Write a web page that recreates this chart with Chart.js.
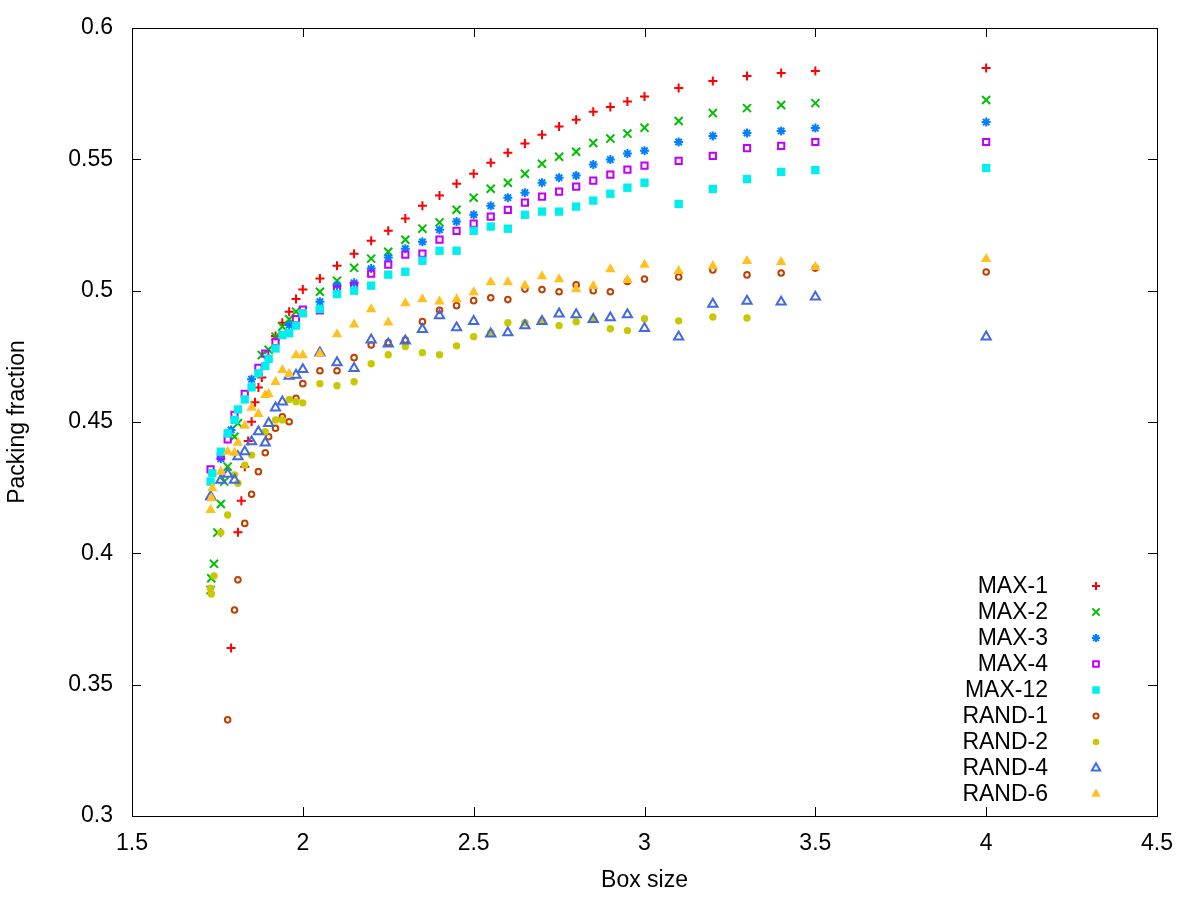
<!DOCTYPE html>
<html>
<head>
<meta charset="utf-8">
<title>Packing fraction vs box size</title>
<script src="https://cdn.jsdelivr.net/npm/chart.js@4/dist/chart.umd.min.js"></script>
<style>
  html, body { margin: 0; padding: 0; background: #fff; }
  canvas { display: block; }
</style>
</head>
<body>
<canvas id="packingChart" width="1200" height="900"></canvas>
<script>
// box sizes shared by every series (null = no point at that size)
const boxSizes = [1.73, 1.732, 1.735, 1.74, 1.75, 1.76, 1.77, 1.78, 1.79, 1.80,
    1.81, 1.82, 1.83, 1.84, 1.85, 1.86, 1.87, 1.88, 1.89, 1.90,
    1.92, 1.94, 1.96, 1.98, 2.00,
    2.05, 2.10, 2.15, 2.20, 2.25, 2.30, 2.35, 2.40, 2.45, 2.50,
    2.55, 2.60, 2.65, 2.70, 2.75, 2.80, 2.85, 2.90, 2.95, 3.00,
    3.1, 3.2, 3.3, 3.4, 3.5, 4.0];

const max1 = [null, null, null, null, null, null, null, null, 0.364, null,
    0.408, 0.420, 0.433, 0.4428, 0.4501, 0.4575, 0.4631, 0.4669, null, null,
    0.4827, 0.4878, 0.492, 0.4968, 0.5004,
    0.5046, 0.5095, 0.5141, 0.519, 0.5228, 0.5275, 0.5323, 0.5362, 0.5407, 0.5445,
    0.5487, 0.5525, 0.556, 0.5594, 0.5625, 0.5651, 0.5681, 0.5699, 0.572, 0.5739,
    0.5772, 0.5798, 0.5817, 0.5829, 0.5836, 0.5848];

const max2 = [0.386, 0.3905, null, 0.396, 0.4079, 0.4188, 0.4273, 0.433, null, 0.4444,
    0.4495, null, null, null, null, null, null, 0.4755, null, 0.4775,
    0.4825, 0.4863, 0.4891, 0.492, null,
    0.4996, 0.5038, 0.5087, 0.5122, 0.5148, 0.5194, 0.5236, 0.526, 0.5308, 0.5354,
    0.5388, 0.5411, 0.5445, 0.5483, 0.551, 0.5529, 0.5562, 0.5579, 0.5598, 0.562,
    0.5646, 0.5676, 0.5695, 0.5707, 0.5714, 0.5726];

const max3 = [null, null, null, null, null, 0.436, null, null, 0.447, null,
    null, null, null, null, 0.4663, null, null, null, null, null,
    null, null, 0.4869, null, null,
    0.4958, 0.502, 0.503, 0.5084, 0.5126, 0.516, 0.5186, 0.5232, 0.5263, 0.5289,
    0.5323, 0.5354, 0.5373, 0.5411, 0.543, 0.5438, 0.548, 0.5499, 0.5522, 0.5533,
    0.5566, 0.5589, 0.56, 0.5608, 0.5619, 0.5642];

const max4 = [0.432, null, null, null, null, 0.437, null, 0.4434, null, 0.4527,
    null, null, 0.4607, null, null, null, 0.4706, null, 0.476, null,
    0.4805, null, null, 0.4892, 0.4928,
    0.4925, 0.5005, 0.5019, 0.5065, 0.5099, 0.5137, 0.5141, 0.5194, 0.5228, 0.5255,
    0.5282, 0.5308, 0.5335, 0.5358, 0.5377, 0.5396, 0.5419, 0.5442, 0.5461, 0.5476,
    0.5494, 0.5513, 0.5543, 0.5551, 0.5566, 0.5566];

const max12 = [0.4273, null, 0.4305, null, null, 0.4387, null, 0.4457, null, 0.4508,
    0.4548, null, 0.4586, null, 0.4632, null, 0.4685, null, 0.4713, 0.474,
    0.478, 0.4831, 0.4838, 0.4867, 0.4914,
    0.493, 0.4987, 0.5, 0.5019, 0.5061, 0.5072, 0.5114, 0.5152, 0.5152, 0.5228,
    0.5244, 0.5236, 0.5289, 0.5301, 0.5301, 0.532, 0.5343, 0.5369, 0.5392, 0.5411,
    0.533, 0.5387, 0.5425, 0.5452, 0.5459, 0.5467];

const rand1 = [null, null, null, null, null, null, null, 0.3366, null, 0.3784,
    0.3899, null, 0.4114, null, 0.4225, null, 0.4311, null, 0.4383, 0.4444,
    0.4476, 0.452, 0.4501, 0.459, 0.4646,
    0.4695, 0.4695, 0.4745, 0.4793, 0.4802, 0.4812, 0.4882, 0.4925, 0.4943, 0.4962,
    0.4973, 0.4966, 0.5006, 0.5004, 0.4996, 0.5022, 0.5, 0.4996, 0.5035, 0.5044,
    0.5052, 0.5079, 0.506, 0.5067, 0.5086, 0.5071];

const rand2 = [0.3867, 0.3845, null, 0.3914, null, 0.4079, null, 0.4146, null, 0.4298,
    0.4267, null, 0.4336, null, 0.4374, null, null, null, 0.4463, null,
    0.4508, 0.4508, 0.4586, 0.4577, 0.4573,
    0.4646, 0.4638, 0.4653, 0.4722, 0.4756, 0.4787, 0.4764, 0.4756, 0.479, 0.4825,
    0.484, 0.4878, 0.4878, 0.4886, 0.4867, 0.4882, 0.4891, 0.4855, 0.4848, 0.4893,
    0.4885, 0.49, 0.4896, null, null, null];

const rand4 = [0.4216, null, null, null, null, 0.4279, null, 0.4302, null, 0.4279,
    0.4368, null, 0.4387, null, 0.4425, null, 0.4463, null, 0.4421, 0.4495,
    0.4554, 0.4577, 0.4675, 0.4679, 0.470,
    0.4763, 0.4726, 0.4704, 0.4813, 0.4798, 0.4809, 0.4853, 0.4905, 0.4859, 0.4883,
    0.4836, 0.484, 0.4867, 0.4883, 0.4912, 0.4909, 0.4891, 0.4897, 0.4909, 0.4857,
    0.4824, 0.4949, 0.496, 0.4957, 0.4976, 0.4824];

const rand6 = [0.4165, 0.421, 0.4248, null, null, 0.4311, null, 0.4387, null, 0.4383,
    0.4421, null, 0.4486, null, 0.4554, null, 0.453, null, 0.4603, 0.4607,
    0.4652, 0.4698, 0.4683, 0.4754, 0.4754,
    0.476, 0.4834, 0.4871, 0.4929, 0.4879, 0.4952, 0.4967, 0.4959, 0.4967, 0.4994,
    0.5032, 0.5032, 0.502, 0.5055, 0.5043, 0.5005, 0.5018, 0.5082, 0.5041, 0.5099,
    0.5075, 0.5094, 0.5113, 0.5109, 0.509, 0.5121];

const seriesNames = ["MAX-1", "MAX-2", "MAX-3", "MAX-4", "MAX-12", "RAND-1", "RAND-2", "RAND-4", "RAND-6"];
const seriesValues = [max1, max2, max3, max4, max12, rand1, rand2, rand4, rand6];

const xTicks = [1.5, 2, 2.5, 3, 3.5, 4, 4.5];
const xTickLabels = ["1.5", "2", "2.5", "3", "3.5", "4", "4.5"];
const yTicks = [0.3, 0.35, 0.4, 0.45, 0.5, 0.55, 0.6];
const yTickLabels = ["0.3", "0.35", "0.4", "0.45", "0.5", "0.55", "0.6"];

// gnuplot-like marker styles, one per series
const styles = [
    { color: "#ff0000", pointStyle: "cross", radius: 4.5, border: 2, filled: false },
    { color: "#00c000", pointStyle: "crossRot", radius: 5.7, border: 2, filled: false },
    { color: "#0080ff", pointStyle: "star", radius: 4.5, border: 2, filled: false },
    { color: "#c000ff", pointStyle: "rect", radius: 4.4, border: 2, filled: false },
    { color: "#00eeee", pointStyle: "rect", radius: 5.9, border: 0, filled: true },
    { color: "#c04000", pointStyle: "circle", radius: 2.8, border: 2, filled: false },
    { color: "#c8c800", pointStyle: "circle", radius: 3.7, border: 0, filled: true },
    { color: "#4169e1", pointStyle: "triangle", radius: 5.3, border: 2, filled: false },
    { color: "#ffc020", pointStyle: "triangle", radius: 6, border: 0, filled: true }
];

const FONT = "'Liberation Sans', Arial, sans-serif";
const FONT_SIZE = 23;

let datasets = seriesNames.map((name, i) => {
    let s = styles[i];
    let points = [];
    boxSizes.forEach((x, j) => {
        if (seriesValues[i][j] !== null) points.push({ x: x, y: seriesValues[i][j] });
    });
    return {
        label: name,
        data: points,
        pointStyle: s.pointStyle,
        pointRadius: s.radius,
        pointBorderWidth: s.border,
        borderColor: s.color,
        backgroundColor: s.filled ? s.color : "rgba(0,0,0,0)",
        showLine: false,
        order: seriesNames.length - i   // later series on top, as gnuplot does
    };
});

// frame and inward tick marks on all four sides
const framePlugin = {
    id: "frame",
    afterDatasetsDraw(chart) {
        let ctx = chart.ctx;
        let a = chart.chartArea;
        let xs = chart.scales.x;
        let ys = chart.scales.y;
        let len = 9;
        ctx.save();
        ctx.strokeStyle = "#000";
        ctx.lineWidth = 1;
        ctx.beginPath();
        xTicks.forEach(v => {
            let px = Math.round(xs.getPixelForValue(v)) + 0.5;
            ctx.moveTo(px, a.bottom);
            ctx.lineTo(px, a.bottom - len);
            ctx.moveTo(px, a.top);
            ctx.lineTo(px, a.top + len);
        });
        yTicks.forEach(v => {
            let py = Math.round(ys.getPixelForValue(v)) + 0.5;
            ctx.moveTo(a.left, py);
            ctx.lineTo(a.left + len, py);
            ctx.moveTo(a.right, py);
            ctx.lineTo(a.right - len, py);
        });
        ctx.stroke();
        ctx.strokeRect(Math.round(a.left) + 0.5, Math.round(a.top) + 0.5,
            Math.round(a.right - a.left), Math.round(a.bottom - a.top));
        ctx.restore();
    }
};

// key in the lower right corner: text right-aligned, marker to the right
const keyPlugin = {
    id: "gnuKey",
    afterDraw(chart) {
        let ctx = chart.ctx;
        let textRight = 1048;
        let markX = 1096;
        let y0 = 586;
        let step = 26;
        ctx.save();
        ctx.font = FONT_SIZE + "px " + FONT;
        ctx.textAlign = "right";
        ctx.textBaseline = "middle";
        seriesNames.forEach((name, i) => {
            let s = styles[i];
            let y = y0 + i * step;
            ctx.fillStyle = "#000";
            ctx.fillText(name, textRight, y + 1);
            ctx.fillStyle = s.filled ? s.color : "rgba(0,0,0,0)";
            ctx.strokeStyle = s.color;
            ctx.lineWidth = s.border;
            Chart.helpers.drawPoint(ctx, {
                pointStyle: s.pointStyle,
                radius: s.radius * 0.9,
                rotation: 0,
                borderWidth: s.border
            }, markX, y);
        });
        ctx.restore();
    }
};

new Chart("packingChart", {
    type: "scatter",
    data: { datasets: datasets },
    options: {
        responsive: false,
        devicePixelRatio: 1,
        animation: false,
        events: [],
        layout: { padding: { left: 0, top: 28, right: 43, bottom: 0 } },
        plugins: {
            legend: { display: false },
            tooltip: { enabled: false }
        },
        scales: {
            x: {
                type: "linear",
                min: 1.5,
                max: 4.5,
                afterBuildTicks: scale => { scale.ticks = xTicks.map(v => ({ value: v })); },
                afterFit: scale => {
                    scale.height = 84;
                    scale.paddingLeft = 0;
                    scale.paddingRight = 0;
                },
                grid: { display: false, drawTicks: false },
                border: { display: false },
                ticks: {
                    color: "#000",
                    padding: 14,
                    maxRotation: 0,
                    font: { family: FONT, size: FONT_SIZE },
                    callback: (v, i) => xTickLabels[i]
                },
                title: {
                    display: true,
                    text: "Box size",
                    color: "#000",
                    font: { family: FONT, size: FONT_SIZE, lineHeight: 1.2 },
                    padding: { top: 0, bottom: 6 }
                }
            },
            y: {
                type: "linear",
                min: 0.3,
                max: 0.6,
                afterBuildTicks: scale => { scale.ticks = yTicks.map(v => ({ value: v })); },
                afterFit: scale => {
                    scale.width = 132;
                    scale.paddingTop = 0;
                    scale.paddingBottom = 0;
                },
                grid: { display: false, drawTicks: false },
                border: { display: false },
                ticks: {
                    color: "#000",
                    padding: 19,
                    font: { family: FONT, size: FONT_SIZE },
                    callback: (v, i) => yTickLabels[i]
                },
                title: {
                    display: true,
                    text: "Packing fraction",
                    color: "#000",
                    font: { family: FONT, size: FONT_SIZE, lineHeight: 1.2 },
                    padding: { top: 4, bottom: 0 }
                }
            }
        }
    },
    plugins: [framePlugin, keyPlugin]
});
</script>
</body>
</html>
